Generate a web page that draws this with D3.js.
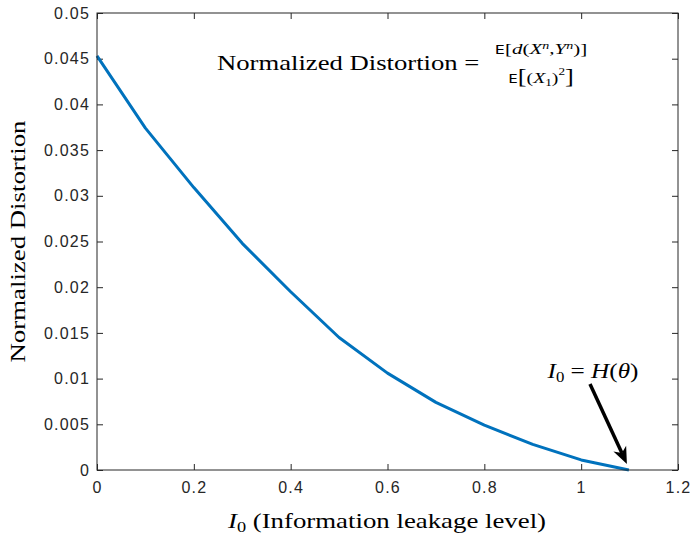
<!DOCTYPE html>
<html>
<head>
<meta charset="utf-8">
<script src="https://cdn.jsdelivr.net/npm/d3@7.9.0/dist/d3.min.js"></script>
<style>
  body { margin: 0; background: #fff; }
  svg { display: block; }
  .tick text { font-family: "Liberation Sans", Arial, sans-serif; font-size: 16px; letter-spacing: 1.2px; fill: #262626; }
  .math { font-family: "Liberation Serif", "DejaVu Serif", serif; fill: #000; }
</style>
</head>
<body>
<div id="chart"></div>
<script>
// leakage level I0 and the normalized distortion
const leakage = [0, 0.1, 0.2, 0.3, 0.4, 0.5, 0.6, 0.7, 0.8, 0.9, 1.0, 1.0986];
const distortion = [0.0453, 0.0374, 0.0309, 0.0248, 0.0195, 0.0145, 0.0106, 0.0074, 0.0049, 0.0028, 0.0011, 0];
const xTicks = [0, 0.2, 0.4, 0.6, 0.8, 1, 1.2];
const yTicks = [0, 0.005, 0.01, 0.015, 0.02, 0.025, 0.03, 0.035, 0.04, 0.045, 0.05];

const data = leakage.map((x, i) => ({ x, y: distortion[i] }));

const width = 690, height = 541;
const margin = { top: 13, right: 12, bottom: 71, left: 97 };

const svg = d3.select('#chart').append('svg')
  .attr('width', width)
  .attr('height', height);

const xScale = d3.scaleLinear().domain([0, 1.2])
  .range([margin.left, width - margin.right]);
const yScale = d3.scaleLinear().domain([0, 0.05])
  .range([height - margin.bottom, margin.top]);

const tickLen = 6;
const fmt = d => String(d);

// bottom + left axes with labels, ticks pointing in
svg.append('g')
  .attr('transform', `translate(0,${yScale(0)})`)
  .call(d3.axisBottom(xScale).tickValues(xTicks).tickFormat(fmt).tickSizeInner(-tickLen).tickSizeOuter(0).tickPadding(12))
  .call(g => g.select('.domain').remove());

svg.append('g')
  .attr('transform', `translate(${xScale(0)},0)`)
  .call(d3.axisLeft(yScale).tickValues(yTicks).tickFormat(fmt).tickSizeInner(-tickLen).tickSizeOuter(0).tickPadding(7))
  .call(g => g.select('.domain').remove());

// top + right ticks (box on)
svg.append('g')
  .attr('transform', `translate(0,${yScale(0.05)})`)
  .call(d3.axisTop(xScale).tickValues(xTicks).tickFormat('').tickSizeInner(-tickLen).tickSizeOuter(0))
  .call(g => g.select('.domain').remove());

svg.append('g')
  .attr('transform', `translate(${xScale(1.2)},0)`)
  .call(d3.axisRight(yScale).tickValues(yTicks).tickFormat('').tickSizeInner(-tickLen).tickSizeOuter(0))
  .call(g => g.select('.domain').remove());

svg.selectAll('.tick line').attr('stroke', '#262626');

// the curve
const line = d3.line().x(d => xScale(d.x)).y(d => yScale(d.y));
svg.append('path')
  .datum(data)
  .attr('fill', 'none')
  .attr('stroke', '#0072BD')
  .attr('stroke-width', 3)
  .attr('stroke-linejoin', 'round')
  .attr('d', line);

// frame
svg.append('rect')
  .attr('x', xScale(0)).attr('y', yScale(0.05))
  .attr('width', xScale(1.2) - xScale(0))
  .attr('height', yScale(0) - yScale(0.05))
  .attr('fill', 'none')
  .attr('stroke', '#262626')
  .attr('stroke-width', 1);

// serif text is stretched a bit sideways to get closer to the LaTeX look
function mathText(cx, cy, sx, size, anchor = 'middle', rot = 0) {
  return svg.append('g')
    .attr('transform', `translate(${cx},${cy}) rotate(${rot}) scale(${sx},1)`)
    .append('text').attr('class', 'math')
    .attr('text-anchor', anchor)
    .attr('font-size', size);
}

// axis labels
const xl = mathText(387, 528, 1.22, 22);
xl.append('tspan').attr('font-style', 'italic').text('I');
xl.append('tspan').attr('font-size', 15).attr('dy', 4).text('0');
xl.append('tspan').attr('dy', -4).text(' (Information leakage level)');

mathText(25, yScale(0.025), 1.22, 22, 'middle', -90)
  .text('Normalized Distortion');

// equation annotation
mathText(217, 70, 1.27, 21, 'start').text('Normalized Distortion =');

const fracX = 541;
const num = mathText(fracX, 54, 1.4, 15);
num.append('tspan').attr('font-family', 'DejaVu Sans Mono, monospace').attr('font-size', 12).text('E');
num.append('tspan').text('[');
num.append('tspan').attr('font-style', 'italic').text('d');
num.append('tspan').text('(');
num.append('tspan').attr('font-style', 'italic').text('X');
num.append('tspan').attr('font-style', 'italic').attr('font-size', 10).attr('dy', -5).text('n');
num.append('tspan').attr('dy', 5).text(',');
num.append('tspan').attr('font-style', 'italic').text('Y');
num.append('tspan').attr('font-style', 'italic').attr('font-size', 10).attr('dy', -5).text('n');
num.append('tspan').attr('dy', 5).text(')]');

const den = mathText(fracX, 83, 1.32, 15);
den.append('tspan').attr('font-family', 'DejaVu Sans Mono, monospace').attr('font-size', 12).text('E');
den.append('tspan').attr('font-size', 20).text('[');
den.append('tspan').text('(');
den.append('tspan').attr('font-style', 'italic').text('X');
den.append('tspan').attr('font-size', 10).attr('dy', 3).text('1');
den.append('tspan').attr('dy', -3).text(')');
den.append('tspan').attr('font-size', 10).attr('dy', -8).text('2');
den.append('tspan').attr('font-size', 20).attr('dy', 8).text(']');

// I0 = H(theta) annotation with arrow
const ann = mathText(593, 378, 1.2, 21);
ann.append('tspan').attr('font-style', 'italic').text('I');
ann.append('tspan').attr('font-size', 14).attr('dy', 4).text('0');
ann.append('tspan').attr('dy', -4).text(' = ');
ann.append('tspan').attr('font-style', 'italic').text('H');
ann.append('tspan').text('(');
ann.append('tspan').attr('font-style', 'italic').text('θ');
ann.append('tspan').text(')');

const tail = [590, 384];
const tip = [xScale(leakage[leakage.length - 1]) - 2, yScale(0) - 6];
const dx = tip[0] - tail[0], dy = tip[1] - tail[1];
const len = Math.hypot(dx, dy);
const ux = dx / len, uy = dy / len;
const headLen = 17, headW = 7, notch = 5;
const base = [tip[0] - ux * headLen, tip[1] - uy * headLen];
const inner = [tip[0] - ux * (headLen - notch), tip[1] - uy * (headLen - notch)];

svg.append('line')
  .attr('x1', tail[0]).attr('y1', tail[1])
  .attr('x2', inner[0]).attr('y2', inner[1])
  .attr('stroke', '#000').attr('stroke-width', 3.5);

svg.append('path')
  .attr('d', d3.line()([
    tip,
    [base[0] - uy * headW, base[1] + ux * headW],
    inner,
    [base[0] + uy * headW, base[1] - ux * headW]
  ]) + 'Z')
  .attr('fill', '#000');
</script>
</body>
</html>
